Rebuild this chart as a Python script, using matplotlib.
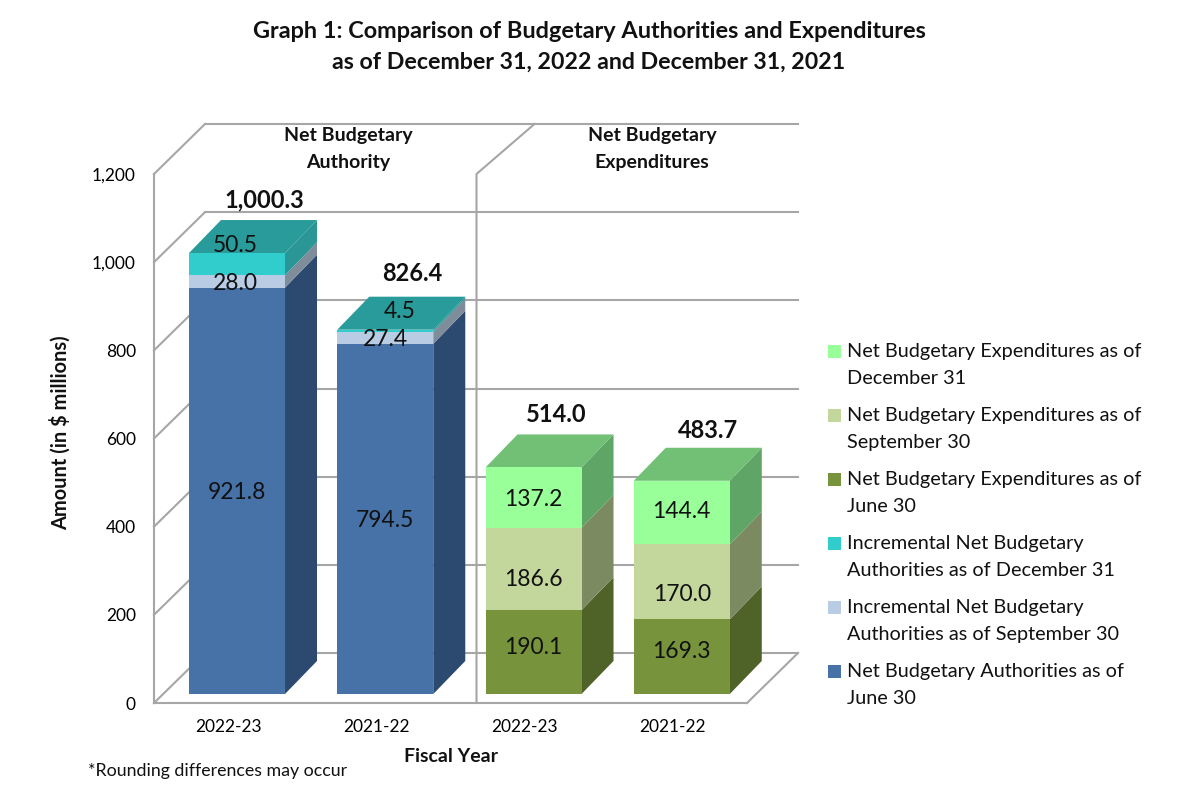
import numpy as np
import matplotlib
matplotlib.use("Agg")
import matplotlib.pyplot as plt
from matplotlib.transforms import Affine2D

plt.rcParams['font.family'] = ['Lato', 'DejaVu Sans']

# data
groups = ["2022-23", "2021-22", "2022-23", "2021-22"]
authority_jun = [921.8, 794.5, 0, 0]
authority_sep = [28.0, 27.4, 0, 0]
authority_dec = [50.5, 4.5, 0, 0]
expend_jun = [0, 0, 190.1, 169.3]
expend_sep = [0, 0, 186.6, 170.0]
expend_dec = [0, 0, 137.2, 144.4]
totals = ["1,000.3", "826.4", "514.0", "483.7"]
yticks = [0, 200, 400, 600, 800, 1000, 1200]
ytick_labels = ["0", "200", "400", "600", "800", "1,000", "1,200"]

series = [authority_jun, authority_sep, authority_dec, expend_jun, expend_sep, expend_dec]
names = ["Net Budgetary Authorities as of\nJune 30",
         "Incremental Net Budgetary\nAuthorities as of September 30",
         "Incremental Net Budgetary\nAuthorities as of December 31",
         "Net Budgetary Expenditures as of\nJune 30",
         "Net Budgetary Expenditures as of\nSeptember 30",
         "Net Budgetary Expenditures as of\nDecember 31"]
front_cols = ["#4672A8", "#B8CCE4", "#31CDCD", "#77933C", "#C3D69B", "#99FF99"]
side_cols = ["#2C4A70", "#7F8C99", "#2A9696", "#4F6228", "#7C8A62", "#5FA565"]
top_cols = ["#2C4A70", "#7F8C99", "#2A9B9B", "#4F6228", "#7C8A62", "#72C075"]

# pixel nudges of the value labels (series index, bar index) -> (dx, dy)
nudge = {(2, 0): (-2, 21), (2, 1): (14, 21), (1, 0): (-2, 0), (4, 2): (0, -8),
         (3, 2): (0, 7), (5, 3): (0, 3), (4, 3): (0, -11), (3, 3): (0, 7)}
grid_col = "#A6A6A6"
W, H = 1201, 808
DPI = 100


def shift(dx, dy):
    # offset in pixels from the front plane of the axes
    return ax.transData + Affine2D().translate(dx, dy)


fig = plt.figure(figsize=(W / DPI, H / DPI), dpi=DPI)
ax = fig.add_axes([154 / W, 1 - 703 / H, (747 - 154) / W, (703 - 174) / H])
ax.set_xlim(-0.56, 3.44)
ax.set_ylim(0, 1200)
ax.patch.set_alpha(0)
for s in ["top", "right"]:
    ax.spines[s].set_visible(False)
for s in ["left", "bottom"]:
    ax.spines[s].set_color(grid_col)
    ax.spines[s].set_linewidth(1.5)

# walls
back = shift(51, 50)
xb0, xb1 = -0.56, 3.44
for y in yticks:
    ax.plot([xb0, xb1], [y, y], color=grid_col, lw=1.5, transform=back, clip_on=False, zorder=1)
    ax.plot([xb0, xb0 + 51 / 148.25], [y, y + 50 / 0.4408], color=grid_col, lw=1.5, clip_on=False, zorder=1)
ax.plot([xb1, xb1 + 51 / 148.25], [0, 50 / 0.4408], color=grid_col, lw=1.5, clip_on=False, zorder=1)
# divider between the two panels
xd = -0.56 + (476.5 - 154) / 148.25
ax.plot([xd, xd, xd + 58 / 148.25], [0, 1200, 1200 + 50 / 0.4408], color=grid_col, lw=1.5, clip_on=False, zorder=1.5)

# bars
x = np.arange(4)
width = 96 / 148.25
face = shift(0, 9)
ddx = 32 / 148.25
ddy = 33 / 0.4408
bottoms = np.zeros(4)
for k, vals in enumerate(series):
    vals = np.array(vals)
    ax.bar(x, vals, width, bottom=bottoms, color=front_cols[k], label=names[k], transform=face, zorder=3, clip_on=False)
    for i in range(4):
        if vals[i] == 0:
            continue
        x1 = x[i] + width / 2
        y0, y1 = bottoms[i], bottoms[i] + vals[i]
        ax.fill([x1, x1 + ddx, x1 + ddx, x1], [y0, y0 + ddy, y1 + ddy, y1], color=side_cols[k], lw=0,
                transform=face, zorder=2.5, clip_on=False)
        dx, dy = nudge.get((k, i), (0, 0))
        ax.annotate(f"{vals[i]:.1f}", (x[i], y0 + vals[i] / 2), xycoords=face, xytext=(dx * 0.72, (dy - 2) * 0.72),
                    textcoords="offset points", ha="center", va="center", fontsize=16.5, color="#111111", zorder=6)
    bottoms = bottoms + vals

# top faces and totals
last = [2, 2, 5, 5]
total_off = [(27, 53), (27, 56), (23, 53), (26, 50)]
for i in range(4):
    x0, x1 = x[i] - width / 2, x[i] + width / 2
    t = bottoms[i]
    ax.fill([x0, x1, x1 + ddx, x0 + ddx], [t, t, t + ddy, t + ddy], color=top_cols[last[i]], lw=0,
            transform=face, zorder=2.6, clip_on=False)
    ax.annotate(totals[i], (x[i], t), xycoords=face, xytext=(total_off[i][0] * 0.72, total_off[i][1] * 0.72),
                textcoords="offset points", ha="center", va="center", fontsize=17, fontweight="bold",
                color="#111111", zorder=6)

ax.set_xticks(x - 0.06)
ax.set_xticklabels(groups, fontsize=12.5)
ax.set_yticks(yticks)
ax.set_yticklabels(ytick_labels, fontsize=12.5)
ax.tick_params(axis="x", length=0, pad=11.5)
ax.tick_params(axis="y", length=0, pad=13)

# legend, newest series on top, swatch beside the first line of each entry
handles, labels = ax.get_legend_handles_labels()
leg = fig.legend(handles[::-1], labels[::-1], loc="upper left", bbox_to_anchor=(820 / W, 1 - 335 / H),
                 frameon=False, fontsize=14.3, labelspacing=1.02, handlelength=0.65, handleheight=0.65,
                 handletextpad=0.3, borderpad=0.4, borderaxespad=0)
for t in leg.get_texts():
    t.set_linespacing(1.7)
    t.set_color("#111111")
for h in leg.legend_handles:
    h.set_y(h.get_y() + 13.5 * 0.72)


def ftext(px, py, s, **kw):
    fig.text(px / W, 1 - py / H, s, ha="center", va="center", color="#111111", **kw)


ftext(589, 32, "Graph 1: Comparison of Budgetary Authorities and Expenditures", fontsize=16.9, fontweight="bold")
ftext(589, 62, "as of December 31, 2022 and December 31, 2021", fontsize=16.7, fontweight="bold")
ftext(348, 149, "Net Budgetary\nAuthority", fontsize=14, fontweight="bold", linespacing=1.65)
ftext(652, 149, "Net Budgetary\nExpenditures", fontsize=14, fontweight="bold", linespacing=1.65)
ftext(60, 433, "Amount (in $ millions)", fontsize=14.4, fontweight="bold", rotation=90)
ftext(451, 757, "Fiscal Year", fontsize=14, fontweight="bold")
ftext(218, 771, "*Rounding differences may occur", fontsize=12.8)

fig.savefig("out.png", dpi=DPI)
